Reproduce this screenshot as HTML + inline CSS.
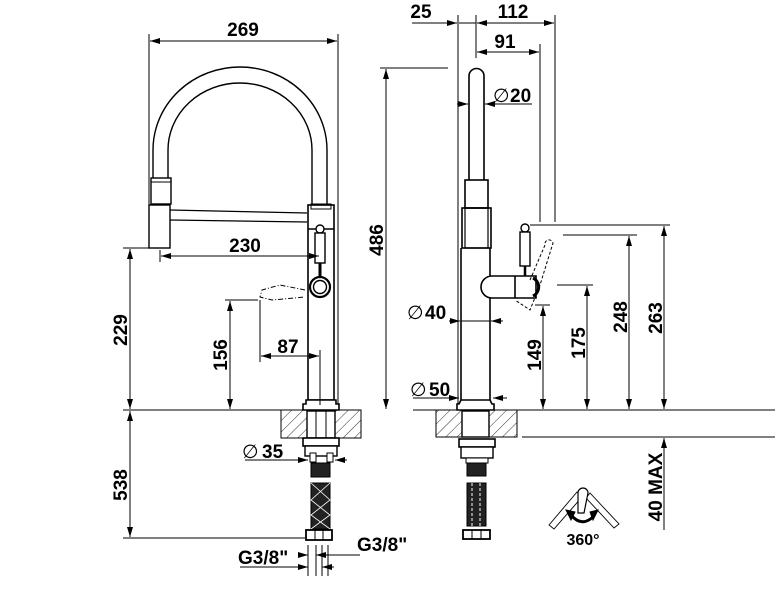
<!DOCTYPE html>
<html><head><meta charset="utf-8"><style>
html,body{margin:0;padding:0;background:#fff;}
svg{display:block;}
text{font-family:"Liberation Sans",Arial,sans-serif;font-weight:bold;font-size:19px;fill:#000;}
</style></head><body>
<svg width="783" height="598" viewBox="0 0 783 598" xmlns="http://www.w3.org/2000/svg">
<defs>
<marker id="a" viewBox="0 0 10 6" refX="10" refY="3" markerWidth="10" markerHeight="6" markerUnits="userSpaceOnUse" orient="auto-start-reverse"><path d="M0,0 L10,3 L0,6 z" fill="#000"/></marker>
<pattern id="h" width="8" height="8" patternUnits="userSpaceOnUse" patternTransform="rotate(45)"><line x1="0" y1="0" x2="0" y2="8" stroke="#000" stroke-width="0.8"/></pattern>
</defs>
<g fill="none" stroke="#000" stroke-width="1">
<line x1="149" y1="34" x2="149" y2="246"/>
<line x1="338" y1="34" x2="338" y2="408"/>
<line x1="150" y1="41" x2="337" y2="41" marker-start="url(#a)" marker-end="url(#a)"/>
<path d="M153,178 L153,150 A87,83 0 0 1 327,150 L327,205" stroke-width="1.4"/>
<path d="M168,178 L168,150 A72,67 0 0 1 312,150 L312,205" stroke-width="1.4"/>
<rect x="151" y="178" width="20" height="26" stroke-width="1.4"/>
<line x1="151" y1="182" x2="171" y2="182"/>
<rect x="149" y="205" width="21" height="43" stroke-width="1.4"/>
<line x1="170" y1="210" x2="307" y2="213" stroke-width="1.2"/>
<line x1="170" y1="220" x2="307" y2="222" stroke-width="1.2"/>
<rect x="308" y="205" width="26" height="195" stroke-width="1.6"/>
<line x1="308" y1="229" x2="334" y2="229" stroke-width="1.4"/>
<rect x="311" y="204" width="20" height="5" stroke-width="1"/>
<circle cx="320" cy="229" r="4" fill="#fff" stroke-width="1.4"/>
<rect x="315" y="233" width="10" height="30" fill="#fff" stroke-width="1.4"/>
<line x1="320" y1="263" x2="320" y2="276" stroke-width="3"/>
<circle cx="320" cy="287" r="10" stroke-width="2.2"/>
<circle cx="320" cy="287" r="6.5" stroke-width="1.4"/>
<path d="M305,290 L280,285 L262,290 L260,297 L272,300 L305,297" stroke-dasharray="5,2,1,2"/>
<path d="M306,400 L336,400 L336,404 L339,404 L339,410 L303,410 L303,404 L306,404 Z" fill="#fff" stroke-width="1.6"/>
<line x1="160" y1="250" x2="160" y2="262"/>
<line x1="161" y1="256" x2="319" y2="256" marker-start="url(#a)" marker-end="url(#a)"/>
<line x1="123" y1="248" x2="160" y2="248"/>
<line x1="130" y1="249" x2="130" y2="409" marker-start="url(#a)" marker-end="url(#a)"/>
<line x1="225" y1="300" x2="258" y2="300"/>
<line x1="230" y1="301" x2="230" y2="409" marker-start="url(#a)" marker-end="url(#a)"/>
<line x1="260" y1="300" x2="260" y2="362"/>
<line x1="320" y1="350" x2="320" y2="405"/>
<line x1="261" y1="356" x2="319" y2="356" marker-start="url(#a)" marker-end="url(#a)"/>
<line x1="123" y1="410" x2="281" y2="410"/>
<rect x="281" y="410" width="80" height="28" fill="url(#h)"/>
<rect x="281" y="410" width="80" height="28"/>
<rect x="307" y="411" width="28" height="27" fill="#fff" stroke-width="1.4"/>
<line x1="316" y1="411" x2="316" y2="438"/><line x1="326" y1="411" x2="326" y2="438"/>
<rect x="303" y="438" width="36" height="8" fill="#fff" stroke-width="1.6"/>
<rect x="305" y="446" width="32" height="10" fill="#fff" stroke-width="1.4"/>
<rect x="310" y="453" width="6" height="9" fill="#fff"/><rect x="327" y="453" width="6" height="9" fill="#fff"/>
<rect x="311" y="463" width="19" height="14" fill="#222"/>
<rect x="311" y="483" width="19" height="46" fill="#222"/>
<path d="M311,483 L330,500 L311,515 L330,529 M330,483 L311,500 L330,515 L311,529" stroke="#fff" stroke-width="0.8"/>
<rect x="306" y="530" width="26" height="10" fill="#fff" stroke-width="1.8"/>
<line x1="315" y1="530" x2="315" y2="540"/><line x1="323" y1="530" x2="323" y2="540"/>
<line x1="245" y1="460" x2="308" y2="460" marker-end="url(#a)"/>
<line x1="347" y1="460" x2="335" y2="460" marker-end="url(#a)"/>
<line x1="123" y1="538" x2="305" y2="538"/>
<line x1="130" y1="411" x2="130" y2="537" marker-start="url(#a)" marker-end="url(#a)"/>
<line x1="308" y1="545" x2="308" y2="576"/><line x1="316" y1="545" x2="316" y2="576"/>
<line x1="322" y1="545" x2="322" y2="576"/><line x1="328" y1="545" x2="328" y2="576"/>
<line x1="240" y1="567" x2="308" y2="567" marker-end="url(#a)"/>
<line x1="334" y1="567" x2="322" y2="567" marker-end="url(#a)"/>
<line x1="360" y1="555" x2="316" y2="555" marker-end="url(#a)"/>
<line x1="300" y1="555" x2="308" y2="555" marker-end="url(#a)"/>

<line x1="458" y1="15" x2="458" y2="408"/>
<line x1="476" y1="15" x2="476" y2="58"/>
<line x1="555" y1="15" x2="555" y2="222"/>
<line x1="540" y1="44" x2="540" y2="222"/>
<line x1="412" y1="23" x2="457" y2="23" marker-end="url(#a)"/>
<line x1="477" y1="23" x2="554" y2="23" marker-start="url(#a)" marker-end="url(#a)"/>
<line x1="459" y1="23" x2="476" y2="23"/>
<line x1="477" y1="52" x2="539" y2="52" marker-start="url(#a)" marker-end="url(#a)"/>
<line x1="380" y1="68" x2="448" y2="68"/>
<line x1="386" y1="69" x2="386" y2="409" marker-start="url(#a)" marker-end="url(#a)"/>
<path d="M469,180 L469,76 A7.5,7.5 0 0 1 484,76 L484,180" stroke-width="1.6"/>
<line x1="457" y1="104" x2="468" y2="104" marker-end="url(#a)"/>
<line x1="532" y1="104" x2="485" y2="104" marker-end="url(#a)"/>
<rect x="465" y="180" width="23" height="28" stroke-width="1.6"/>
<rect x="462" y="208" width="29" height="40" stroke-width="1.6"/>
<rect x="465" y="208" width="23" height="40" stroke-width="1.2"/>
<line x1="461" y1="248" x2="461" y2="400" stroke-width="1.6"/>
<line x1="490" y1="248" x2="490" y2="400" stroke-width="1.6"/>
<path d="M492,276 L536,276 L536,298 L492,298 A11,11 0 0 1 492,276 Z" fill="#fff" stroke-width="1.6"/>
<line x1="515" y1="276" x2="515" y2="298" stroke-width="1.6"/>
<path d="M533,278 A10,10 0 0 1 533,296" stroke-width="3"/>
<circle cx="525" cy="228" r="4" fill="#fff" stroke-width="1.4"/>
<rect x="520" y="232" width="10" height="34" fill="#fff" stroke-width="1.4"/>
<line x1="525" y1="266" x2="525" y2="276" stroke-width="2.5"/>
<path d="M530,280 L545,245 A4,4 0 0 1 553,243 L540,285 L530,310 L515,300" stroke-dasharray="3,2"/>
<line x1="530" y1="225" x2="670" y2="225"/>
<line x1="563" y1="235" x2="637" y2="235"/>
<line x1="557" y1="285" x2="593" y2="285"/>
<line x1="535" y1="305" x2="550" y2="305"/>
<line x1="664" y1="226" x2="664" y2="409" marker-start="url(#a)" marker-end="url(#a)"/>
<line x1="629" y1="236" x2="629" y2="409" marker-start="url(#a)" marker-end="url(#a)"/>
<line x1="587" y1="286" x2="587" y2="409" marker-start="url(#a)" marker-end="url(#a)"/>
<line x1="543" y1="306" x2="543" y2="409" marker-start="url(#a)" marker-end="url(#a)"/>
<line x1="449" y1="321" x2="460" y2="321" marker-end="url(#a)"/>
<line x1="503" y1="321" x2="491" y2="321" marker-end="url(#a)"/>
<line x1="461" y1="321" x2="490" y2="321"/>
<line x1="413" y1="398" x2="459" y2="398" marker-end="url(#a)"/>
<line x1="507" y1="398" x2="493" y2="398" marker-end="url(#a)"/>
<path d="M461,400 L490,400 L492,404 L494,404 L494,410 L457,410 L457,404 L459,404 Z" fill="#fff" stroke-width="1.6"/>
<line x1="413" y1="410" x2="775" y2="410"/>
<rect x="436" y="410" width="81" height="27" fill="url(#h)"/>
<rect x="436" y="410" width="81" height="27"/>
<rect x="462" y="411" width="27" height="26" fill="#fff" stroke-width="1.4"/>
<line x1="522" y1="437" x2="775" y2="437"/>
<line x1="664" y1="530" x2="664" y2="438" marker-end="url(#a)"/>
<rect x="459" y="439" width="36" height="8" fill="#fff" stroke-width="1.6"/>
<rect x="461" y="447" width="32" height="11" fill="#fff" stroke-width="1.4"/>
<rect x="466" y="458" width="22" height="5" fill="#fff"/>
<rect x="467" y="463" width="19" height="13" fill="#222"/>
<rect x="467" y="483" width="19" height="43" fill="#222"/>
<path d="M472,483 L472,526 M480,483 L480,526" stroke="#fff" stroke-width="1" stroke-dasharray="3,2"/>
<rect x="463" y="530" width="27" height="9" fill="#fff" stroke-width="1.8"/>
<line x1="472" y1="530" x2="472" y2="539"/><line x1="481" y1="530" x2="481" y2="539"/>
<path d="M549,525 L577,492 L582,497 L554,529 Z" stroke-width="0.9"/>
<path d="M590,493 L619,524 L614,528 L586,498 Z" stroke-width="0.9"/>
<path d="M578,513 L578,493 A5,5 0 0 1 588,493 L584,513 Z" fill="#fff" stroke-width="1.2"/>
<path d="M571,515 Q582,528 594,516" stroke-width="3"/>
<path d="M566,510 L571,520 L575,512 Z" fill="#000"/>
<path d="M598,510 L593,520 L590,512 Z" fill="#000"/>
</g>
<text x="243" y="36" text-anchor="middle">269</text>
<text x="245" y="252" text-anchor="middle">230</text>
<text x="288" y="353" text-anchor="middle">87</text>
<text transform="translate(127,330) rotate(-90)" text-anchor="middle">229</text>
<text transform="translate(227,355) rotate(-90)" text-anchor="middle">156</text>
<text transform="translate(127,485) rotate(-90)" text-anchor="middle">538</text>
<text x="242" y="458" style="font-weight:normal">∅</text>
<text x="262" y="458">35</text>
<text x="238" y="564">G3/8"</text>
<text x="357" y="551">G3/8"</text>
<text x="421" y="18" text-anchor="middle">25</text>
<text x="513" y="18" text-anchor="middle">112</text>
<text x="505" y="48" text-anchor="middle">91</text>
<text transform="translate(383,240) rotate(-90)" text-anchor="middle">486</text>
<text x="493" y="102" style="font-weight:normal">∅</text>
<text x="510" y="102">20</text>
<text x="407" y="319" style="font-weight:normal">∅</text>
<text x="425" y="319">40</text>
<text x="410" y="396" style="font-weight:normal">∅</text>
<text x="429" y="396">50</text>
<text transform="translate(541,355) rotate(-90)" text-anchor="middle">149</text>
<text transform="translate(585,343) rotate(-90)" text-anchor="middle">175</text>
<text transform="translate(627,317) rotate(-90)" text-anchor="middle">248</text>
<text transform="translate(662,318) rotate(-90)" text-anchor="middle">263</text>
<text transform="translate(662,487) rotate(-90)" text-anchor="middle">40 MAX</text>
<text x="583" y="545" text-anchor="middle" style="font-size:16px">360°</text>
</svg>
</body></html>
